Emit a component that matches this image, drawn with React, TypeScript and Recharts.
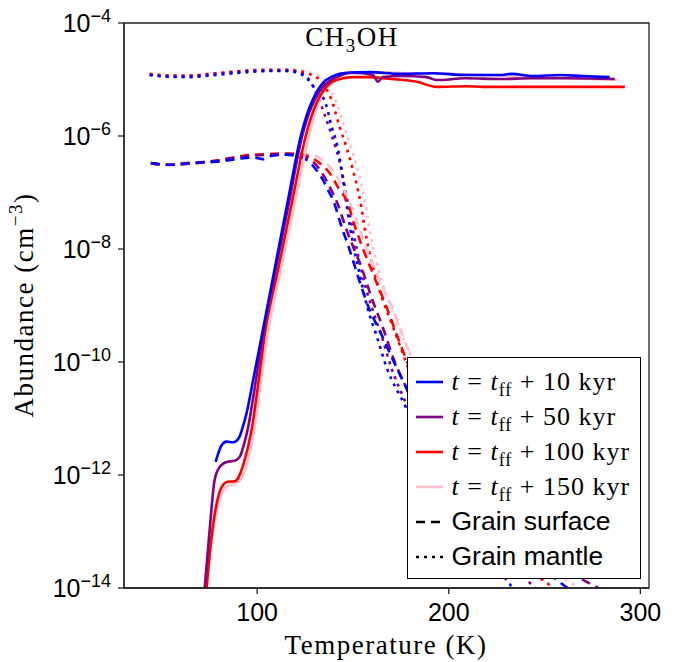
import React from 'react';
import { LineChart, Line, XAxis, YAxis, Legend, ReferenceArea } from 'recharts';

// ---------- axes ----------
const xDomain = [30.5, 304.5];
const yDomain = [1e-14, 1e-4];
const xTicks = [100, 200, 300];
const xTickLabels = ['100', '200', '300'];
const yTicks = [1e-14, 1e-12, 1e-10, 1e-8, 1e-6, 1e-4];
const yTickExps = ['\u221214', '\u221212', '\u221210', '\u22128', '\u22126', '\u22124'];

// ---------- series meta ----------
const timeLabels = ['10', '50', '100', '150'];
const colors = ['#0000ff', '#800080', '#ff0000', '#ffc0cb'];

// ---------- gas phase (solid) ----------
const gasT10 = [78.3, 81.5, 84, 87.5, 90.5, 92.5, 94.5, 98, 103, 110, 116, 123, 126, 129, 134.4, 139.6, 146.6, 158.7, 174.4, 191.6, 209, 226.6, 233, 243.9, 258, 270, 284];
const gasA10 = [1.7e-12, 3.39e-12, 3.89e-12, 3.8e-12, 4.57e-12, 7.08e-12, 1.26e-11, 5.01e-11, 3.72e-10, 6.31e-9, 7.08e-8, 1.07e-6, 2.4e-6, 4.37e-6, 8.71e-6, 1.15e-5, 1.32e-5, 1.35e-5, 1.26e-5, 1.29e-5, 1.2e-5, 1.2e-5, 1.26e-5, 1.15e-5, 1.2e-5, 1.15e-5, 1.1e-5];

const gasT50 = [72.6, 75.2, 77.8, 80.4, 84.1, 88.3, 90.9, 93, 95, 99, 103, 110, 116.5, 123.5, 127, 130, 135.2, 141.4, 150, 160.5, 163, 165.5, 176, 188.5, 193.7, 209, 226.6, 243.9, 261.6, 286.6];
const gasA50 = [1e-14, 1.07e-13, 8.13e-13, 1.38e-12, 1.7e-12, 1.78e-12, 2.09e-12, 3.39e-12, 6.31e-12, 3.98e-11, 3.16e-10, 5.01e-9, 6.31e-8, 1e-6, 2.51e-6, 4.37e-6, 7.94e-6, 1.1e-5, 1.32e-5, 1.2e-5, 9.12e-6, 1.1e-5, 1.15e-5, 1.1e-5, 9.77e-6, 1.05e-5, 1.02e-5, 1.05e-5, 1.05e-5, 1.02e-5];

const gasT100 = [73.6, 76, 78.9, 81.5, 84.6, 88.3, 90.3, 93, 97.1, 100.5, 104, 111, 118, 125.7, 130.9, 136.1, 143.1, 150, 157.2, 170, 183.3, 193.7, 209.4, 217.8, 240, 261.6, 291.9];
const gasA100 = [1e-14, 7.08e-14, 3.16e-13, 6.17e-13, 7.59e-13, 7.76e-13, 9.12e-13, 1.62e-12, 6.31e-12, 3.98e-11, 3.16e-10, 4.47e-9, 6.31e-8, 1.12e-6, 3.8e-6, 7.41e-6, 1.02e-5, 1.1e-5, 1.1e-5, 1.02e-5, 9.12e-6, 7.41e-6, 7.59e-6, 7.41e-6, 7.41e-6, 7.41e-6, 7.41e-6];

const gasT150 = [73.6, 76.5, 79.4, 84, 89.3, 91.9, 94, 98.2, 101.5, 105.5, 112.5, 120, 127.4, 132.6, 139.4, 150, 165, 180, 200, 220, 240, 260, 288];
const gasA150 = [1e-14, 7.94e-14, 2.69e-13, 6.17e-13, 7.24e-13, 8.91e-13, 1.38e-12, 5.5e-12, 3.55e-11, 3.16e-10, 4.47e-9, 7.41e-8, 1.12e-6, 4.37e-6, 9.77e-6, 1.32e-5, 1.35e-5, 1.29e-5, 1.26e-5, 1.2e-5, 1.12e-5, 1.07e-5, 9.77e-6];

// ---------- grain surface (dashed) ----------
const surfT10 = [44.5, 54.3, 63, 71.7, 80.4, 89.1, 97.8, 103, 106.5, 115.2, 120.5, 125.7, 130.9, 134.4, 137, 139.6, 144, 148.3, 153.5, 158.7, 164, 170.8, 177, 185, 200, 220, 240, 262];
const surfA10 = [3.31e-7, 3.09e-7, 3.24e-7, 3.39e-7, 3.55e-7, 3.89e-7, 4.17e-7, 3.89e-7, 4.37e-7, 4.68e-7, 4.37e-7, 3.8e-7, 2.51e-7, 1.66e-7, 1.1e-7, 7.41e-8, 2.51e-8, 9.55e-9, 2.63e-9, 8.32e-10, 3.55e-10, 1.1e-10, 3.98e-11, 1e-11, 1.58e-12, 2e-13, 3.98e-14, 1e-14];

const surfT50 = [44.5, 54.3, 63, 71.7, 80.4, 89.1, 97.8, 106.5, 115.2, 122, 127, 131, 135, 139, 142, 146, 150, 154.6, 159.8, 165.5, 170.8, 180, 195, 215, 240, 278];
const surfA50 = [3.31e-7, 3.09e-7, 3.31e-7, 3.47e-7, 3.72e-7, 4.17e-7, 4.47e-7, 4.68e-7, 4.79e-7, 4.68e-7, 3.98e-7, 3.02e-7, 1.91e-7, 1.05e-7, 6.31e-8, 2.51e-8, 1.12e-8, 4.57e-9, 1.35e-9, 4.17e-10, 1.23e-10, 2.51e-11, 3.16e-12, 3.98e-13, 6.31e-14, 1e-14];

const surfT100 = [44.5, 54.3, 63, 71.7, 80.4, 89.1, 97.8, 106.5, 115.2, 122.2, 127.4, 132.6, 137.9, 143.1, 146.6, 151, 156.1, 162.9, 168.1, 174.4, 182, 195, 215, 240, 265, 291];
const surfA100 = [3.31e-7, 3.09e-7, 3.24e-7, 3.39e-7, 3.72e-7, 4.27e-7, 4.68e-7, 4.79e-7, 4.9e-7, 4.79e-7, 4.27e-7, 3.31e-7, 2.19e-7, 1.1e-7, 7.41e-8, 2.51e-8, 8.51e-9, 2.29e-9, 8.32e-10, 2.19e-10, 5.01e-11, 7.94e-12, 1e-12, 1.58e-13, 3.98e-14, 2e-14];

const surfT150 = [44.5, 54.3, 63, 71.7, 80.4, 89.1, 97.8, 106.5, 115.2, 122, 128, 133, 138, 143, 148, 153, 158, 165, 171, 177.5, 185, 200, 220, 245, 270, 288];
const surfA150 = [3.16e-7, 3.02e-7, 3.16e-7, 3.39e-7, 3.72e-7, 4.17e-7, 4.57e-7, 4.79e-7, 4.9e-7, 4.9e-7, 4.68e-7, 3.98e-7, 2.82e-7, 1.58e-7, 7.08e-8, 2.51e-8, 8.51e-9, 2.29e-9, 8.32e-10, 2.19e-10, 5.62e-11, 1e-11, 1.26e-12, 2e-13, 6.31e-14, 3.16e-14];

// ---------- grain mantle (dotted) ----------
const mantT10 = [43.9, 55, 65, 75, 85, 95, 105, 115, 121, 125, 128.3, 131.6, 135, 139, 142, 144.5, 147, 150, 153.5, 157.5, 162, 167.6, 177, 190, 205, 220, 233.4];
const mantA10 = [1.2e-5, 1.12e-5, 1.1e-5, 1.17e-5, 1.26e-5, 1.35e-5, 1.41e-5, 1.41e-5, 1.32e-5, 1.12e-5, 8.51e-6, 5.75e-6, 4.37e-6, 1.41e-6, 6.31e-7, 2e-7, 5.01e-8, 1.26e-8, 3.55e-9, 9.33e-10, 3.16e-10, 7.94e-11, 1.74e-11, 2e-12, 2.51e-13, 3.98e-14, 1e-14];

const mantT50 = [43.9, 55, 65, 75, 85, 95, 105, 115, 122, 127, 131, 135, 139, 143, 146, 149, 152, 156, 160.5, 165.5, 170, 176, 190, 205, 225, 245];
const mantA50 = [1.2e-5, 1.12e-5, 1.15e-5, 1.23e-5, 1.32e-5, 1.41e-5, 1.45e-5, 1.45e-5, 1.32e-5, 1e-5, 5.62e-6, 2.51e-6, 1e-6, 3.55e-7, 1.12e-7, 3.16e-8, 1e-8, 2.51e-9, 7.94e-10, 2.51e-10, 7.94e-11, 2.51e-11, 2.51e-12, 3.16e-13, 5.01e-14, 1e-14];

const mantT100 = [43.9, 55, 65, 75, 85, 95, 105, 115, 122, 127, 132.6, 139.4, 143, 146.6, 150, 153.5, 157, 161, 165, 170, 175.5, 182, 195, 210, 230, 255];
const mantA100 = [1.26e-5, 1.17e-5, 1.17e-5, 1.26e-5, 1.35e-5, 1.45e-5, 1.48e-5, 1.48e-5, 1.41e-5, 1.26e-5, 9.77e-6, 3.8e-6, 1.45e-6, 6.31e-7, 2.51e-7, 7.94e-8, 1.58e-8, 3.98e-9, 1.41e-9, 5.01e-10, 1.58e-10, 3.98e-11, 3.16e-12, 3.98e-13, 5.01e-14, 1e-14];

const mantT150 = [43.9, 55, 65, 75, 85, 95, 105, 115, 122, 128, 135, 141.5, 145.5, 149, 152.5, 156, 159.5, 163.5, 168, 173, 179, 186, 200, 215, 240, 268];
const mantA150 = [1.26e-5, 1.2e-5, 1.17e-5, 1.23e-5, 1.32e-5, 1.41e-5, 1.48e-5, 1.51e-5, 1.48e-5, 1.32e-5, 9.77e-6, 3.8e-6, 1.45e-6, 6.31e-7, 2.51e-7, 7.94e-8, 1.58e-8, 3.98e-9, 1.41e-9, 5.01e-10, 1.58e-10, 3.98e-11, 3.16e-12, 5.01e-13, 5.01e-14, 1e-14];

const toPoints = (T: number[], A: number[]) => T.map((t, i) => ({ T: t, A: A[i] }));

const DASHED = '9 6';
const DOTTED = '3 5';
const LW = 2.6;

type S = { key: string; data: { T: number; A: number }[]; color: string; dash?: string };

// drawing order: pink first, blue last within each phase
const series: S[] = [
  { key: 'mant150', data: toPoints(mantT150, mantA150), color: colors[3], dash: DOTTED },
  { key: 'mant100', data: toPoints(mantT100, mantA100), color: colors[2], dash: DOTTED },
  { key: 'mant50', data: toPoints(mantT50, mantA50), color: colors[1], dash: DOTTED },
  { key: 'mant10', data: toPoints(mantT10, mantA10), color: colors[0], dash: DOTTED },
  { key: 'surf150', data: toPoints(surfT150, surfA150), color: colors[3], dash: DASHED },
  { key: 'surf100', data: toPoints(surfT100, surfA100), color: colors[2], dash: DASHED },
  { key: 'surf50', data: toPoints(surfT50, surfA50), color: colors[1], dash: DASHED },
  { key: 'surf10', data: toPoints(surfT10, surfA10), color: colors[0], dash: DASHED },
  { key: 'gas150', data: toPoints(gasT150, gasA150), color: colors[3] },
  { key: 'gas100', data: toPoints(gasT100, gasA100), color: colors[2] },
  { key: 'gas50', data: toPoints(gasT50, gasA50), color: colors[1] },
  { key: 'gas10', data: toPoints(gasT10, gasA10), color: colors[0] },
];

const SANS = '"Liberation Sans", Arial, Helvetica, sans-serif';
const SERIF = '"Liberation Serif", "Times New Roman", serif';

const YTick = (props: any) => {
  const { x, y, payload } = props;
  const idx = yTicks.findIndex((v) => Math.abs(Math.log10(v) - Math.log10(payload.value)) < 1e-6);
  return (
    <text x={x} y={y + 9} textAnchor="end" fontFamily={SANS} fontSize={25} fill="#000">
      10
      <tspan dy={-10} fontSize={18}>{yTickExps[idx]}</tspan>
    </text>
  );
};

const XTick = (props: any) => {
  const { x, y, payload } = props;
  const idx = xTicks.indexOf(payload.value);
  return (
    <text x={x} y={y + 25} textAnchor="middle" fontFamily={SANS} fontSize={25} fill="#000">
      {xTickLabels[idx]}
    </text>
  );
};

const LegendBox = () => {
  const row: React.CSSProperties = { display: 'flex', alignItems: 'center', height: 35 };
  const sample = (color: string, dash?: string) => (
    <svg width={27} height={8} style={{ marginLeft: 7.5, marginRight: 9, flex: 'none' }}>
      <line x1={0} y1={4} x2={27} y2={4} stroke={color} strokeWidth={LW} strokeDasharray={dash} />
    </svg>
  );
  return (
    <div
      style={{
        width: 234,
        height: 222,
        boxSizing: 'border-box',
        border: '1.5px solid #000',
        background: '#fff',
        paddingTop: 6,
      }}
    >
      {timeLabels.map((t, i) => (
        <div key={t} style={row}>
          {sample(colors[i])}
          <span style={{ fontFamily: SERIF, fontSize: 26, letterSpacing: 1, whiteSpace: 'nowrap', color: '#000' }}>
            <i>t</i> = <i>t</i>
            <span style={{ fontSize: 18, position: 'relative', top: 6 }}>ff</span> + {t} kyr
          </span>
        </div>
      ))}
      <div style={row}>
        {sample('#000', DASHED)}
        <span style={{ fontFamily: SANS, fontSize: 26.5, whiteSpace: 'nowrap', color: '#000' }}>Grain surface</span>
      </div>
      <div style={row}>
        {sample('#000', DOTTED)}
        <span style={{ fontFamily: SANS, fontSize: 26.5, whiteSpace: 'nowrap', color: '#000' }}>Grain mantle</span>
      </div>
    </div>
  );
};

export default function App() {
  return (
    <div style={{ position: 'absolute', left: 0, top: 0, width: 678, height: 662, background: '#fff' }}>
      <LineChart width={678} height={662} margin={{ top: 23, right: 29, bottom: 14, left: 14 }}>
        <XAxis
          dataKey="T"
          type="number"
          domain={xDomain}
          ticks={xTicks}
          allowDataOverflow
          height={60}
          tickSize={6}
          tickMargin={2}
          tick={<XTick />}
          axisLine={{ stroke: '#222', strokeWidth: 1.3 }}
          tickLine={{ stroke: '#222', strokeWidth: 1.3 }}
        />
        <YAxis
          type="number"
          scale="log"
          domain={yDomain}
          ticks={yTicks}
          allowDataOverflow
          width={110}
          tickSize={6}
          tickMargin={7}
          tick={<YTick />}
          axisLine={{ stroke: '#222', strokeWidth: 1.3 }}
          tickLine={{ stroke: '#222', strokeWidth: 1.3 }}
        />
        {series.map((s) => (
          <Line
            key={s.key}
            data={s.data}
            dataKey="A"
            type="monotone"
            stroke={s.color}
            strokeWidth={LW}
            strokeDasharray={s.dash}
            dot={false}
            activeDot={false}
            isAnimationActive={false}
            legendType="none"
          />
        ))}
        <ReferenceArea
          x1={xDomain[0]}
          x2={xDomain[1]}
          y1={yDomain[0]}
          y2={yDomain[1]}
          fill="none"
          fillOpacity={0}
          stroke="#222"
          strokeWidth={1.3}
          ifOverflow="visible"
        />
        <Legend
          layout="vertical"
          align="center"
          verticalAlign="middle"
          content={() => <LegendBox />}
          wrapperStyle={{ position: 'absolute', left: 407, top: 357, width: 234, height: 222, margin: 0, padding: 0 }}
        />
      </LineChart>
      <svg
        width={678}
        height={662}
        style={{ position: 'absolute', left: 0, top: 0, pointerEvents: 'none' }}
      >
        <text x={352} y={46} textAnchor="middle" fontFamily={SERIF} fontSize={27} letterSpacing={1.5} fill="#000">
          CH
          <tspan dy={6} fontSize={19}>3</tspan>
          <tspan dy={-6}>OH</tspan>
        </text>
        <text x={386} y={654} textAnchor="middle" fontFamily={SERIF} fontSize={27} letterSpacing={1.5} fill="#000">
          Temperature (K)
        </text>
        <text
          transform="translate(33,305) rotate(-90)"
          x={0}
          y={0}
          textAnchor="middle"
          fontFamily={SERIF}
          fontSize={27}
          letterSpacing={1.5}
          fill="#000"
        >
          Abundance (cm
          <tspan dy={-11} fontSize={19}>{'\u22123'}</tspan>
          <tspan dy={11}>)</tspan>
        </text>
      </svg>
    </div>
  );
}
